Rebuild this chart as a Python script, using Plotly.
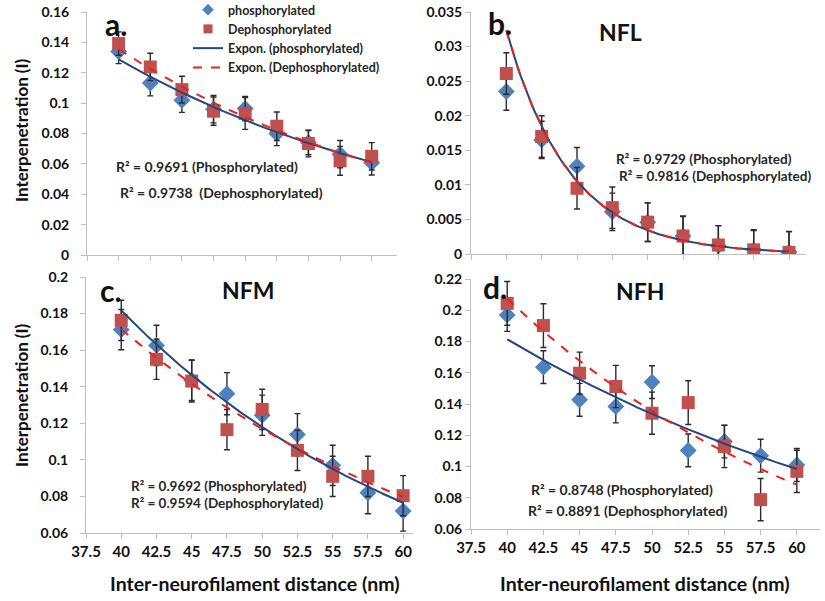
import numpy as np
import plotly.graph_objects as go

W, H = 825, 601

# ---------------- data ----------------
distance = [40, 42.5, 45, 47.5, 50, 52.5, 55, 57.5, 60]
x_ticks = [37.5, 40, 42.5, 45, 47.5, 50, 52.5, 55, 57.5, 60]
x_ticktext = ["37.5", "40", "42.5", "45", "47.5", "50", "52.5", "55", "57.5", "60"]

# panel a (all neurofilaments)
a_phos = [0.134, 0.1133, 0.1019, 0.096, 0.0964, 0.0800, 0.0740, 0.0664, 0.0607]
a_phos_err = [0.008, 0.0085, 0.008, 0.009, 0.008, 0.008, 0.008, 0.009, 0.008]
a_deph = [0.1392, 0.1238, 0.1089, 0.0947, 0.0932, 0.0848, 0.0734, 0.0620, 0.0650]
a_deph_err = [0.0077, 0.009, 0.0088, 0.0093, 0.0105, 0.0094, 0.0088, 0.0095, 0.009]

# panel b (NFL)
b_phos = [0.0235, 0.0165, 0.0127, 0.0061, 0.0046, 0.0026, 0.0012, 0.0006, 0.00025]
b_phos_err = [0.0027, 0.0027, 0.0027, 0.0027, 0.0028, 0.0029, 0.0029, 0.0029, 0.003]
b_deph = [0.0261, 0.0170, 0.0095, 0.0067, 0.0046, 0.0026, 0.0013, 0.0006, 0.00024]
b_deph_err = [0.003, 0.003, 0.003, 0.003, 0.0028, 0.0028, 0.0028, 0.0028, 0.003]

# panel c (NFM)
c_phos = [0.1712, 0.1626, 0.1435, 0.1362, 0.1244, 0.1138, 0.0970, 0.0820, 0.0720]
c_phos_err = [0.011, 0.011, 0.011, 0.0115, 0.011, 0.0115, 0.011, 0.0115, 0.011]
c_deph = [0.1763, 0.1550, 0.1431, 0.1165, 0.1276, 0.1052, 0.0910, 0.0910, 0.0804]
c_deph_err = [0.011, 0.011, 0.0115, 0.011, 0.011, 0.011, 0.011, 0.011, 0.011]

# panel d (NFH)
d_phos = [0.1970, 0.1636, 0.1427, 0.1384, 0.1540, 0.1103, 0.1160, 0.1069, 0.1010]
d_phos_err = [0.0105, 0.0105, 0.0105, 0.0105, 0.0105, 0.0105, 0.0105, 0.0105, 0.0105]
d_deph = [0.2044, 0.1902, 0.1597, 0.1512, 0.1341, 0.1409, 0.1128, 0.0788, 0.0969]
d_deph_err = [0.014, 0.014, 0.0135, 0.0135, 0.0135, 0.014, 0.0135, 0.0135, 0.0135]

a_yticks = [0, 0.02, 0.04, 0.06, 0.08, 0.1, 0.12, 0.14, 0.16]
a_yticktext = ["0", "0.02", "0.04", "0.06", "0.08", "0.1", "0.12", "0.14", "0.16"]
b_yticks = [0, 0.005, 0.01, 0.015, 0.02, 0.025, 0.03, 0.035]
b_yticktext = ["0", "0.005", "0.01", "0.015", "0.02", "0.025", "0.03", "0.035"]
c_yticks = [0.06, 0.08, 0.1, 0.12, 0.14, 0.16, 0.18, 0.2]
c_yticktext = ["0.06", "0.08", "0.1", "0.12", "0.14", "0.16", "0.18", "0.2"]
d_yticks = [0.06, 0.08, 0.1, 0.12, 0.14, 0.16, 0.18, 0.2, 0.22]
d_yticktext = ["0.06", "0.08", "0.1", "0.12", "0.14", "0.16", "0.18", "0.2", "0.22"]

legend_names = ["phosphorylated", "Dephosphorylated",
                "Expon. (phosphorylated)", "Expon. (Dephosphorylated)"]
r2_labels = {
    "a": ["R² = 0.9691 (Phosphorylated)", "R² = 0.9738  (Dephosphorylated)"],
    "b": ["R² = 0.9729 (Phosphorylated)", "R² = 0.9816 (Dephosphorylated)"],
    "c": ["R² = 0.9692 (Phosphorylated)", "R² = 0.9594 (Dephosphorylated)"],
    "d": ["R² = 0.8748 (Phosphorylated)", "R² = 0.8891 (Dephosphorylated)"],
}

# ---------------- styling ----------------
FONT = "Lato"
BLUE = "#4F81BD"
RED = "#C0504D"
NAVY = "#24477F"
DASHRED = "#E8221C"
AXC = "#BFBFBF"
TXT = "#262626"


def fx(p):
    return p / W


def fy(p):
    return 1 - p / H


def expfit(x, y):
    x = np.asarray(x, float)
    k, c = np.polyfit(x, np.log(np.asarray(y, float)), 1)
    xs = np.linspace(min(x), max(x), 101)
    return xs, np.exp(c + k * xs)


fig = go.Figure()

panels = [
    ("a", "", a_phos, a_phos_err, a_deph, a_deph_err),
    ("b", "2", b_phos, b_phos_err, b_deph, b_deph_err),
    ("c", "3", c_phos, c_phos_err, c_deph, c_deph_err),
    ("d", "4", d_phos, d_phos_err, d_deph, d_deph_err),
]

for key, s, ph, phe, de, dee in panels:
    xa, ya = "x" + s, "y" + s
    fig.add_trace(go.Scatter(
        x=distance, y=ph, mode="markers", showlegend=False,
        xaxis=xa, yaxis=ya,
        marker=dict(symbol="diamond", size=13, color=BLUE),
        error_y=dict(type="data", array=phe, visible=True, color="#2b2b2b",
                     thickness=1.4, width=3)))
    fig.add_trace(go.Scatter(
        x=distance, y=de, mode="markers", showlegend=False,
        xaxis=xa, yaxis=ya,
        marker=dict(symbol="square", size=13, color=RED),
        error_y=dict(type="data", array=dee, visible=True, color="#2b2b2b",
                     thickness=1.4, width=3)))
    xs, ys = expfit(distance, ph)
    fig.add_trace(go.Scatter(
        x=xs, y=ys, mode="lines", showlegend=False,
        xaxis=xa, yaxis=ya, line=dict(color=NAVY, width=2)))
    xs, ys = expfit(distance, de)
    fig.add_trace(go.Scatter(
        x=xs, y=ys, mode="lines", showlegend=False,
        xaxis=xa, yaxis=ya, line=dict(color=DASHRED, width=2, dash="dash")))

# legend entries (legend-only samples with legend-sized symbols)
fig.add_trace(go.Scatter(x=[None], y=[None], mode="markers", name=legend_names[0],
                         marker=dict(symbol="diamond", size=9, color=BLUE)))
fig.add_trace(go.Scatter(x=[None], y=[None], mode="markers", name=legend_names[1],
                         marker=dict(symbol="square", size=9, color=RED)))
fig.add_trace(go.Scatter(x=[None], y=[None], mode="lines", name=legend_names[2],
                         line=dict(color=NAVY, width=2)))
fig.add_trace(go.Scatter(x=[None], y=[None], mode="lines", name=legend_names[3],
                         line=dict(color=DASHRED, width=2, dash="dash")))


def xaxis(domain, rng, anchor, labels):
    return dict(domain=domain, range=rng, anchor=anchor,
                tickvals=x_ticks, ticktext=x_ticktext, showticklabels=labels,
                showline=True, linecolor=AXC, linewidth=1, ticks="outside",
                ticklen=5, tickcolor=AXC, showgrid=False, zeroline=False,
                tickfont=dict(family=FONT, size=15, color="#111111",
                              weight="bold"), fixedrange=True)


def yaxis(domain, rng, anchor, tv, tt, standoff):
    return dict(domain=domain, range=rng, anchor=anchor,
                tickvals=tv, ticktext=tt, ticklabelstandoff=standoff,
                showline=True, linecolor=AXC, linewidth=1, ticks="outside",
                ticklen=5, tickcolor=AXC, showgrid=False, zeroline=False,
                tickfont=dict(family=FONT, size=14, color="#111111",
                              weight="bold"), fixedrange=True)


fig.update_layout(
    width=W, height=H,
    margin=dict(l=0, r=0, t=0, b=0, pad=0, autoexpand=False),
    paper_bgcolor="white", plot_bgcolor="white",
    font=dict(family=FONT, color=TXT),
    xaxis=xaxis([fx(87), fx(397)], [37.5, 62.0], "y", False),
    yaxis=yaxis([fy(255), fy(12)], [0, 0.16], "x", a_yticks, a_yticktext, 9),
    xaxis2=xaxis([fx(471), fx(806)], [37.5, 61.2], "y2", False),
    yaxis2=yaxis([fy(254), fy(12)], [0, 0.035], "x2", b_yticks, b_yticktext, 0),
    xaxis3=xaxis([fx(86), fx(413)], [37.5, 60.7], "y3", True),
    yaxis3=yaxis([fy(533), fy(277)], [0.06, 0.2], "x3", c_yticks, c_yticktext, 9),
    xaxis4=xaxis([fx(471), fx(820)], [37.5, 61.6], "y4", True),
    yaxis4=yaxis([fy(529), fy(279)], [0.06, 0.22], "x4", d_yticks, d_yticktext, 0),
    legend=dict(x=fx(188), y=fy(-5), xanchor="left", yanchor="top",
                bgcolor="rgba(0,0,0,0)", tracegroupgap=0, itemwidth=30,
                font=dict(family=FONT, size=12.5, color=TXT, weight="bold")),
    showlegend=True,
)

ann = []


def text(px, py, t, size, color=TXT, bold=True, anchor="center", angle=0):
    ann.append(dict(x=fx(px), y=fy(py), xref="paper", yref="paper", text=t,
                    showarrow=False, xanchor=anchor, yanchor="middle",
                    textangle=angle,
                    font=dict(family=FONT, size=size, color=color,
                              weight="bold" if bold else "normal")))


# panel letters & titles
text(116, 24, "a.", 30, "#111111")
text(500, 23, "b.", 30, "#111111")
text(620, 32, "NFL", 23, "#111111")
text(111, 290, "c.", 30, "#111111")
text(248, 290, "NFM", 23, "#111111")
text(495, 287, "d.", 30, "#111111")
text(640, 291, "NFH", 23, "#111111")

# R² labels
text(114, 167, r2_labels["a"][0], 14, anchor="left")
text(118, 193, r2_labels["a"][1], 14, anchor="left")
text(614, 159, r2_labels["b"][0], 13.5, anchor="left")
text(617, 176, r2_labels["b"][1], 13.5, anchor="left")
text(129, 486, r2_labels["c"][0], 13.5, anchor="left")
text(129, 503, r2_labels["c"][1], 13.5, anchor="left")
text(529, 489, r2_labels["d"][0], 14, anchor="left")
text(526, 510, r2_labels["d"][1], 14, anchor="left")

# axis titles
text(21, 130, "Interpenetration (I)", 17, "#111111", angle=-90)
text(21, 395, "Interpenetration (I)", 17, "#111111", angle=-90)
text(255, 583, "Inter-neurofilament distance (nm)", 19.5, "#111111")
text(645, 583, "Inter-neurofilament distance (nm)", 19.5, "#111111")

fig.update_layout(annotations=ann)
fig.write_html("out.html",
               config={"displayModeBar": False},
               post_script="document.body.style.margin='0px';")
